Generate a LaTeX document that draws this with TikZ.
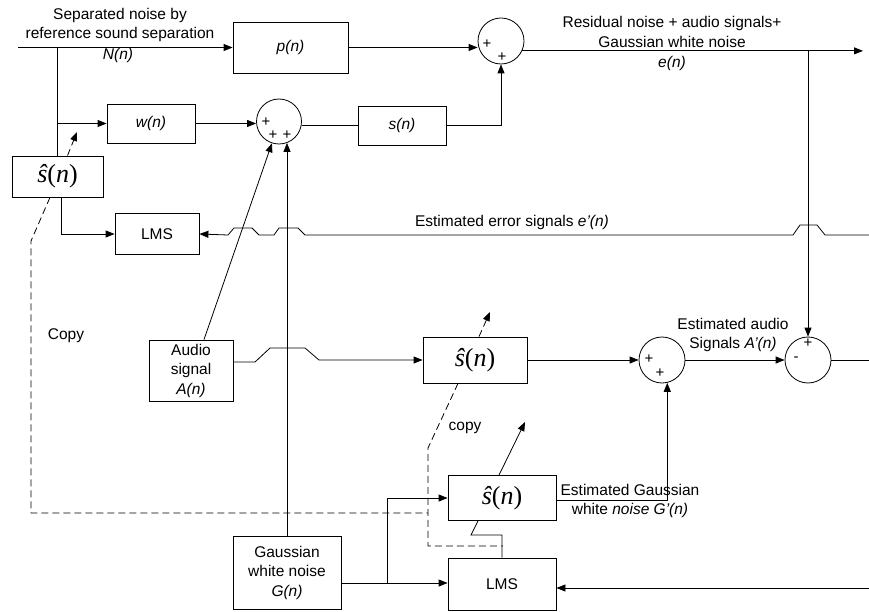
\documentclass[tikz,border=0pt]{standalone}
\usepackage{fontspec}
\setmainfont{Liberation Sans}
\newfontfamily\tms{Liberation Serif}
\usetikzlibrary{arrows.meta}
\newcommand\shatn{{\fontsize{26}{26}\selectfont\tms\itshape ŝ\upshape(\itshape n\upshape)}}
\begin{document}
\begin{tikzpicture}[x=1pt,y=-1pt,line width=0.8pt,
  font=\fontsize{15.5}{19.5}\selectfont,
  box/.style={draw,rectangle,inner sep=0pt},
  sumc/.style={draw,circle,minimum size=46pt,inner sep=0pt},
  sgn/.style={inner sep=0pt,font=\fontsize{15}{15}\selectfont},
  lbl/.style={inner sep=0pt,align=center},
  dsh/.style={dash pattern=on 7pt off 4pt},
  arr/.style={-{Triangle[length=9pt,width=7pt]}}]
\useasboundingbox (0,0) rectangle (869,612);

% boxes
\node[box,minimum width=115pt,minimum height=51pt] (p) at (290.5,47.5) {\textit{p(n)}};
\node[box,minimum width=88pt,minimum height=39pt] (w) at (151,123.5) {\textit{w(n)}};
\node[box,minimum width=91pt,minimum height=41pt] (sh1) at (57.5,176.5) {\shatn};
\node[box,minimum width=84pt,minimum height=41pt] (lms1) at (157,234) {LMS};
\node[box,minimum width=88pt,minimum height=39pt] (s) at (402,125.5) {\textit{s(n)}};
\node[box,minimum width=84pt,minimum height=61pt,align=center] (audio) at (191,370.5) {Audio\\signal\\\textit{A(n)}};
\node[box,minimum width=104pt,minimum height=46pt] (sh2) at (475,360) {\shatn};
\node[box,minimum width=108pt,minimum height=45pt] (sh3) at (502,498) {\shatn};
\node[box,minimum width=108pt,minimum height=52pt] (lms2) at (502,584) {LMS};
\node[box,minimum width=108pt,minimum height=73pt,align=center] (gauss) at (287,572.5) {Gaussian\\white noise\\\textit{G(n)}};

% summing junctions
\node[sumc,minimum size=45pt] (c1) at (279,121.5) {};
\node[sumc] (c2) at (501,41) {};
\node[sumc] (c3) at (662,360) {};
\node[sumc] (c4) at (808,360) {};

% signs
\node[sgn] (s1a) at (266,122) {+};
\node[sgn] (s1b) at (273,135) {+};
\node[sgn] (s1c) at (287,135) {+};
\node[sgn] (s2a) at (487,44) {+};
\node[sgn] (s2b) at (502,57) {+};
\node[sgn] (s3a) at (649,359) {+};
\node[sgn] (s3b) at (660,373) {+};
\node[sgn] (s4a) at (808,343) {+};
\node[sgn] (s4b) at (796,359) {-};

% labels
\node[lbl] (tN) at (120,25) {Separated noise by\\reference sound separation};
\node[lbl] (tNn) at (118,55) {\textit{N(n)}};
\node[lbl] (tR) at (672,32) {Residual noise + audio signals+\\Gaussian white noise};
\node[lbl] (te) at (672,63) {\textit{e(n)}};
\node[lbl] (terr) at (512,222) {Estimated error signals \textit{e'(n)}};
\node[lbl] (tcopy) at (66,336) {Copy};
\node[lbl] (tcopy2) at (465,428) {copy};
\node[lbl] (tA) at (733,335) {Estimated audio\\Signals \textit{A'(n)}};
\node[lbl] (tG) at (630,501) {Estimated Gaussian\\white \textit{noise G'(n)}};

% free ends
\coordinate (in1) at (18,47.5);
\coordinate (out) at (863,51);
\coordinate (errin) at (869,235);
\coordinate (out2) at (869,360);
\coordinate (e2) at (869,588);
\coordinate (j) at (387,583);
\coordinate (cp1) at (77,132);
\coordinate (cp2) at (490,312);
\coordinate (cp3) at (525,422);

% connectors
\draw[arr] (in1) -- (p.west);
\draw (in1 -| sh1.north) -- (sh1.north);
\draw[arr] (sh1.north |- w.west) -- (w.west);
\draw[arr] (w.east) -- (w.east -| c1.west);
\draw (c1.east |- s.west) -- (s.west);
\draw[arr] (s.east) -| (c2.south);
\draw[arr] (p.east) -- (p.east -| c2.west);
\draw[arr] (c2.-25) -- (c2.-25 -| out);
\draw[arr] (c4.north |- c2.-25) -- (c4.north);
\draw[arr] (errin) -- (825,235) -- (817,225) -- (800,225) -- (793,235)
  -- (305,235) -- (298,228) -- (279,228) -- (274,235)
  -- (259,235) -- (252,228) -- (234,228) -- (228,235) -- (lms1.east);
\draw[arr] ([xshift=3.5pt]sh1.south) |- (lms1.west);
\draw[dsh,arr] ([xshift=10pt]sh1.north) -- (cp1);
\draw[dsh] ([xshift=-7.5pt]sh1.south) -- (31,241) -- (31,513) -- (428,513);
\draw[dsh] ([xshift=-17pt]sh2.south) -- (428,448) -- (428,546) -- (503,546);
\draw[dsh,arr] ([xshift=4pt]sh2.north) -- (cp2);
\draw[arr] ([xshift=13pt]audio.north) -- (c1.252);
\draw[arr] (gauss.north) -- (gauss.north |- c1.-69);
\draw[arr] (audio.east |- 0,362) -- (255,362) -- (270,348) -- (305,348) -- (319,360) -- (sh2.west);
\draw[arr] (sh2.east) -- (c3.west);
\draw[arr] (c3.east) -- (c4.west);
\draw (c4.east) -- (out2);
\draw[arr] (sh3.east |- 0,500) -- (c3.-77 |- 0,500) -- (c3.-77);
\draw[arr] ([xshift=-3pt]sh3.north) -- (cp3);
\draw (lms2.north) -- (502,535) -- (471,535) -- ([xshift=-24pt]sh3.south);
\draw (gauss.east |- j) -- (j);
\draw[arr] (j) |- (sh3.west);
\draw[arr] (j) -- (lms2.west |- j);
\draw[arr] (e2) -- (e2 -| lms2.east);
\end{tikzpicture}
\end{document}
